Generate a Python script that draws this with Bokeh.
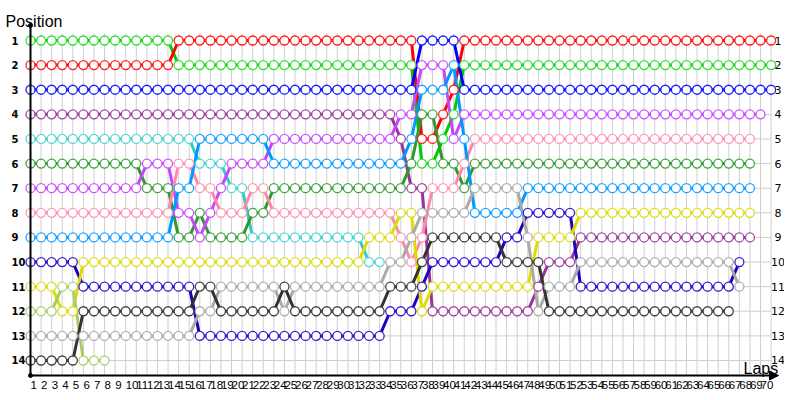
from bokeh.plotting import figure
from bokeh.models import Range1d, Label, Arrow, NormalHead
from bokeh.embed import file_html
from bokeh.resources import INLINE
from bokeh.core.properties import value

# ---------------- data ----------------
laps = list(range(1, 72))
lap_labels = [str(n) for n in range(1, 71)]
positions = list(range(1, 15))
pos_labels = [str(n) for n in positions]

green = [1,1,1,1,1,1,1,1,1,1, 1,1,1,1,2,2,2,2,2,2, 2,2,2,2,2,2,2,2,2,2,
         2,2,2,2,2,2,2,6,6,5, 4,2,2,2,2,2,2,2,2,2, 2,2,2,2,2,2,2,2,2,2,
         2,2,2,2,2,2,2,2,2,2, 2]
red = [2,2,2,2,2,2,2,2,2,2, 2,2,2,2,1,1,1,1,1,1, 1,1,1,1,1,1,1,1,1,1,
       1,1,1,1,1,1,1,5,5,4, 3,1,1,1,1,1,1,1,1,1, 1,1,1,1,1,1,1,1,1,1,
       1,1,1,1,1,1,1,1,1,1, 1]
blue = [3,3,3,3,3,3,3,3,3,3, 3,3,3,3,3,3,3,3,3,3, 3,3,3,3,3,3,3,3,3,3,
        3,3,3,3,3,3,3,1,1,1, 1,3,3,3,3,3,3,3,3,3, 3,3,3,3,3,3,3,3,3,3,
        3,3,3,3,3,3,3,3,3,3, 3]
purple = [4,4,4,4,4,4,4,4,4,4, 4,4,4,4,4,4,4,4,4,4, 4,4,4,4,4,4,4,4,4,4,
          4,4,4,4,4,5,7,7,12,12, 12,12,12,12,12,12,12,12,11,10, 10,10,9,9,9,9,9,9,9,9,
          9,9,9,9,9,9,9,9,9]
cyan = [5,5,5,5,5,5,5,5,5,5, 5,5,5,5,5,5,6,6,6,7, 7,9,9,9,9,9,9,9,9,9,
        9,9,10,10]
darkgreen = [6,6,6,6,6,6,6,6,6,6, 6,7,7,7,9,9,8,9,9,9, 9,8,8,7,7,7,7,7,7,7,
             7,7,7,7,7,7,6,4,4,6, 6,7,6,6,6,6,6,6,6,6, 6,6,6,6,6,6,6,6,6,6,
             6,6,6,6,6,6,6,6,6]
violet = [7,7,7,7,7,7,7,7,7,7, 7,6,6,6,8,8,9,8,7,6, 6,6,6,5,5,5,5,5,5,5,
          5,5,5,5,5,4,4,2,2,2, 5,4,4,4,4,4,4,4,4,4, 4,4,4,4,4,4,4,4,4,4,
          4,4,4,4,4,4,4,4,4,4]
pink = [8,8,8,8,8,8,8,8,8,8, 8,8,8,8,6,6,7,7,8,8, 8,7,7,8,8,8,8,8,8,8,
        8,8,8,8,8,9,10,9,7,7, 7,6,5,5,5,5,5,5,5,5, 5,5,5,5,5,5,5,5,5,5,
        5,5,5,5,5,5,5,5,5]
skyblue = [9,9,9,9,9,9,9,9,9,9, 9,9,9,9,7,7,5,5,5,5, 5,5,5,6,6,6,6,6,6,6,
           6,6,6,6,6,6,5,3,3,3, 2,5,8,8,8,8,8,7,7,7, 7,7,7,7,7,7,7,7,7,7,
           7,7,7,7,7,7,7,7,7]
indigo = [10,10,10,10,10,11,11,11,11,11, 11,11,11,11,11,11,13,13,13,13,
          13,13,13,13,13,13,13,13,13,13, 13,13,13,13,12,12,12,11,10,10,
          10,10,10,10,10,9,9,8,8,8, 8,8,11,11,11,11,11,11,11,11,
          11,11,11,11,11,11,11,10]
yellow = [11,11,11,12,12,10,10,10,10,10, 10,10,10,10,10,10,10,10,10,10,
          10,10,10,10,10,10,10,10,10,10, 10,10,9,9,9,8,8,12,11,11,
          11,11,11,11,11,11,11,11,9,9, 9,9,8,8,8,8,8,8,8,8,
          8,8,8,8,8,8,8,8,8]
lightgreen = [12,12,12,11,11,14,14,14]
gray = [13,13,13,13,13,13,13,13,13,13, 13,13,13,13,13,13,12,12,11,11,
        11,11,11,11,12,11,11,11,11,11, 11,11,11,11,10,10,9,8,8,8,
        8,8,7,7,7,7,7,9,12,11, 11,11,10,10,10,10,10,10,10,10,
        10,10,10,10,10,10,10,11]
darkgray = [14,14,14,14,14,12,12,12,12,12, 12,12,12,12,12,12,11,11,12,12,
            12,12,12,12,11,12,12,12,12,12, 12,12,12,12,11,11,11,10,9,9,
            9,9,9,9,9,10,10,10,10,12, 12,12,12,12,12,12,12,12,12,12,
            12,12,12,12,12,12,12]

series = [
    (green, "#00cc00", "#33dd33"),
    (red, "#ff0000", "#ff2020"),
    (blue, "#0000ff", "#2020ff"),
    (purple, "#993399", "#a04ca0"),
    (cyan, "#33cccc", "#55d5d5"),
    (darkgreen, "#2e9a2e", "#44a444"),
    (violet, "#c844ff", "#cc55ff"),
    (pink, "#ff88aa", "#ff99b5"),
    (skyblue, "#0099ff", "#22a5ff"),
    (indigo, "#2200bb", "#3322cc"),
    (yellow, "#dddd00", "#dddd22"),
    (lightgreen, "#aacc66", "#b5d27a"),
    (gray, "#aaaaaa", "#b0b0b0"),
    (darkgray, "#333333", "#444444"),
]

# ---------------- geometry ----------------
W, H = 784, 392
X0, DX = 30.0, 10.58      # canvas x of lap 1, px per lap
Y0, DY = 40.0, 24.615     # canvas y of position 1, px per position


def lap_at(px):
    return 1 + (px - X0) / DX


def pos_at(py):
    return 1 + (py - Y0) / DY


p = figure(width=W, height=H, output_backend="svg", toolbar_location=None,
           x_axis_type=None, y_axis_type=None, min_border=0,
           x_range=Range1d(lap_at(0), lap_at(W)),
           y_range=Range1d(pos_at(H), pos_at(0)))
p.outline_line_color = None
p.background_fill_color = "white"
p.border_fill_color = "white"

axis_top = pos_at(25)
axis_bottom = pos_at(375)
grid_top = pos_at(33)
axis_right = lap_at(778)
last_lap = laps[-1]

# grid
p.segment(x0=laps, y0=[grid_top] * len(laps), x1=laps, y1=[axis_bottom] * len(laps),
          line_color="#cfcfcf", line_width=1)
p.segment(x0=[1] * len(positions), y0=positions, x1=[last_lap] * len(positions), y1=positions,
          line_color="#cfcfcf", line_width=1)

# axes
p.add_layout(Arrow(end=None, x_start=1, y_start=axis_bottom, x_end=1, y_end=axis_top,
                   line_color="black", line_width=2))
p.add_layout(Arrow(end=NormalHead(size=9, fill_color="black", line_color="black"),
                   x_start=1, y_start=axis_bottom, x_end=axis_right, y_end=axis_bottom,
                   line_color="black", line_width=2))
p.scatter([1, 1], [axis_top, axis_bottom], size=4, color="black")

# data lines then markers
for vals, lc, mc in series:
    p.line(laps[:len(vals)], vals, line_color=lc, line_width=3)
for vals, lc, mc in series:
    p.scatter(laps[:len(vals)], vals, marker="circle", size=9, fill_color="white",
              line_color=mc, line_width=1.3)

# labels
p.text(x=laps[:len(lap_labels)], y=[axis_bottom] * len(lap_labels), text=lap_labels,
       y_offset=9, text_align="left", text_baseline="middle",
       text_font=value("Liberation Sans"), text_font_size="11.5px", text_color="#000000")
p.text(x=[1] * len(positions), y=positions, text=pos_labels, x_offset=-19,
       text_align="left", text_baseline="middle", text_font=value("DejaVu Sans"),
       text_font_size="10px", text_font_style="bold", text_color="#000000")
p.text(x=[last_lap] * len(positions), y=positions, text=pos_labels, x_offset=7,
       text_align="center", text_baseline="middle", text_font=value("DejaVu Sans"),
       text_font_size="11px", text_color="#000000")

p.add_layout(Label(x=5, y=H - 21, x_units="screen", y_units="screen", text="Position",
                   text_font="Liberation Sans", text_font_size="16px",
                   text_baseline="alphabetic", text_color="black"))
p.add_layout(Label(x=743, y=H - 368, x_units="screen", y_units="screen", text="Laps",
                   text_font="Liberation Sans", text_font_size="16px",
                   text_baseline="alphabetic", text_color="black"))

open("out.html", "w").write(file_html(p, INLINE))
